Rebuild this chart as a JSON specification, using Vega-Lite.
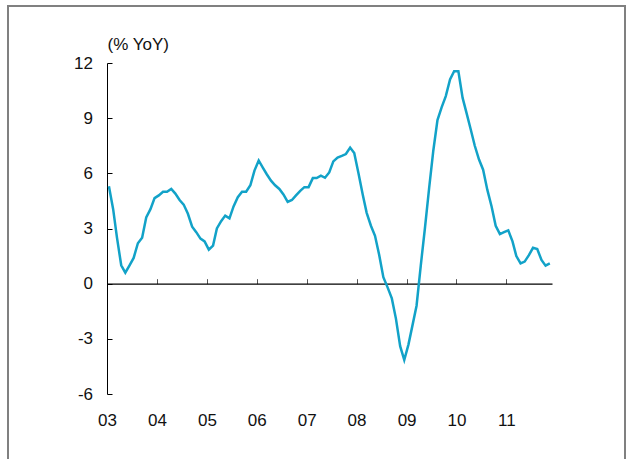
{
  "$schema": "https://vega.github.io/schema/vega-lite/v6.json",
  "autosize": "none",
  "padding": {"left": 8, "top": 6, "right": 4, "bottom": 0},
  "width": 617,
  "height": 454,
  "config": {
    "view": {"stroke": "#808080", "strokeWidth": 2},
    "font": "Liberation Sans"
  },
  "data": {"values": [
    {"d":"2003-01-15","v":5.3},{"d":"2003-02-15","v":4.05},{"d":"2003-03-15","v":2.5},{"d":"2003-04-15","v":1.0},{"d":"2003-05-15","v":0.6},{"d":"2003-06-15","v":1.0},{"d":"2003-07-15","v":1.4},{"d":"2003-08-15","v":2.2},{"d":"2003-09-15","v":2.5},{"d":"2003-10-15","v":3.6},{"d":"2003-11-15","v":4.05},{"d":"2003-12-15","v":4.65},
    {"d":"2004-01-15","v":4.8},{"d":"2004-02-15","v":5.0},{"d":"2004-03-15","v":5.0},{"d":"2004-04-15","v":5.15},{"d":"2004-05-15","v":4.9},{"d":"2004-06-15","v":4.55},{"d":"2004-07-15","v":4.3},{"d":"2004-08-15","v":3.8},{"d":"2004-09-15","v":3.1},{"d":"2004-10-15","v":2.8},{"d":"2004-11-15","v":2.45},{"d":"2004-12-15","v":2.3},
    {"d":"2005-01-15","v":1.85},{"d":"2005-02-15","v":2.07},{"d":"2005-03-15","v":3.0},{"d":"2005-04-15","v":3.4},{"d":"2005-05-15","v":3.7},{"d":"2005-06-15","v":3.55},{"d":"2005-07-15","v":4.2},{"d":"2005-08-15","v":4.7},{"d":"2005-09-15","v":5.0},{"d":"2005-10-15","v":5.0},{"d":"2005-11-15","v":5.35},{"d":"2005-12-15","v":6.15},
    {"d":"2006-01-15","v":6.7},{"d":"2006-02-15","v":6.3},{"d":"2006-03-15","v":5.95},{"d":"2006-04-15","v":5.6},{"d":"2006-05-15","v":5.35},{"d":"2006-06-15","v":5.15},{"d":"2006-07-15","v":4.85},{"d":"2006-08-15","v":4.45},{"d":"2006-09-15","v":4.55},{"d":"2006-10-15","v":4.8},{"d":"2006-11-15","v":5.05},{"d":"2006-12-15","v":5.25},
    {"d":"2007-01-15","v":5.25},{"d":"2007-02-15","v":5.74},{"d":"2007-03-15","v":5.74},{"d":"2007-04-15","v":5.87},{"d":"2007-05-15","v":5.76},{"d":"2007-06-15","v":6.05},{"d":"2007-07-15","v":6.65},{"d":"2007-08-15","v":6.86},{"d":"2007-09-15","v":6.95},{"d":"2007-10-15","v":7.05},{"d":"2007-11-15","v":7.4},{"d":"2007-12-15","v":7.1},
    {"d":"2008-01-15","v":6.0},{"d":"2008-02-15","v":4.85},{"d":"2008-03-15","v":3.85},{"d":"2008-04-15","v":3.15},{"d":"2008-05-15","v":2.6},{"d":"2008-06-15","v":1.55},{"d":"2008-07-15","v":0.35},{"d":"2008-08-15","v":-0.2},{"d":"2008-09-15","v":-0.8},{"d":"2008-10-15","v":-1.9},{"d":"2008-11-15","v":-3.4},{"d":"2008-12-15","v":-4.15},
    {"d":"2009-01-15","v":-3.3},{"d":"2009-02-15","v":-2.2},{"d":"2009-03-15","v":-1.2},{"d":"2009-04-15","v":1.0},{"d":"2009-05-15","v":3.0},{"d":"2009-06-15","v":5.2},{"d":"2009-07-15","v":7.2},{"d":"2009-08-15","v":8.9},{"d":"2009-09-15","v":9.6},{"d":"2009-10-15","v":10.2},{"d":"2009-11-15","v":11.1},{"d":"2009-12-15","v":11.55},
    {"d":"2010-01-15","v":11.55},{"d":"2010-02-15","v":10.1},{"d":"2010-03-15","v":9.3},{"d":"2010-04-15","v":8.4},{"d":"2010-05-15","v":7.5},{"d":"2010-06-15","v":6.75},{"d":"2010-07-15","v":6.2},{"d":"2010-08-15","v":5.1},{"d":"2010-09-15","v":4.2},{"d":"2010-10-15","v":3.15},{"d":"2010-11-15","v":2.7},{"d":"2010-12-15","v":2.8},
    {"d":"2011-01-15","v":2.9},{"d":"2011-02-15","v":2.3},{"d":"2011-03-15","v":1.5},{"d":"2011-04-15","v":1.1},{"d":"2011-05-15","v":1.2},{"d":"2011-06-15","v":1.55},{"d":"2011-07-15","v":1.95},{"d":"2011-08-15","v":1.88},{"d":"2011-09-15","v":1.29},{"d":"2011-10-15","v":0.98},{"d":"2011-11-15","v":1.1}
  ]},
  "resolve": {"axis": {"x": "independent"}},
  "layer": [
    {
      "mark": {"type": "line", "color": "#12A2C8", "strokeWidth": 2.5},
      "encoding": {
        "x": {
          "field": "d", "type": "temporal",
          "scale": {"domain": [{"year": 2003, "month": 1, "date": 1}, {"year": 2011, "month": 12, "date": 1}], "range": [99, 544]},
          "axis": {
            "orient": "bottom", "offset": -66, "title": null,
            "values": [{"year":2003},{"year":2004},{"year":2005},{"year":2006},{"year":2007},{"year":2008},{"year":2009},{"year":2010},{"year":2011}],
            "format": "%y", "domain": false, "ticks": false, "grid": false, "labelFlush": false,
            "labelPadding": 18, "labelDx": 3, "labelFontSize": 17, "labelColor": "#111", "labelFont": "Liberation Sans"
          }
        },
        "y": {
          "field": "v", "type": "quantitative",
          "scale": {"domain": [-6, 12], "range": [388, 57], "nice": false, "zero": false},
          "axis": {
            "orient": "left", "offset": -99, "values": [-6, -3, 0, 3, 6, 9, 12],
            "labelExpr": "(datum.value < 0 ? '-' : '') + abs(datum.value)",
            "grid": false, "domain": true, "domainColor": "#000", "domainWidth": 1, "ticks": true, "tickColor": "#000", "tickSize": -5,
            "labelPadding": 19.5, "labelFontSize": 17, "labelColor": "#111", "labelFont": "Liberation Sans",
            "title": "(% YoY)", "titleAngle": 0, "titleAlign": "left", "titleBaseline": "alphabetic",
            "titleX": 0, "titleY": 43, "titleFontSize": 17, "titleFontWeight": "normal", "titleColor": "#111", "titleFont": "Liberation Sans"
          }
        }
      }
    },
    {
      "mark": {"type": "line", "strokeOpacity": 0},
      "encoding": {
        "x": {
          "field": "d", "type": "temporal",
          "axis": {
            "orient": "bottom", "offset": -176.33, "title": null,
            "values": [{"year":2003},{"year":2004},{"year":2005},{"year":2006},{"year":2007},{"year":2008},{"year":2009},{"year":2010},{"year":2011}],
            "labels": false, "grid": false, "domain": true, "domainColor": "#000", "domainWidth": 1.2,
            "ticks": true, "tickSize": -5, "tickColor": "#555"
          }
        },
        "y": {"field": "v", "type": "quantitative"}
      }
    }
  ]
}
